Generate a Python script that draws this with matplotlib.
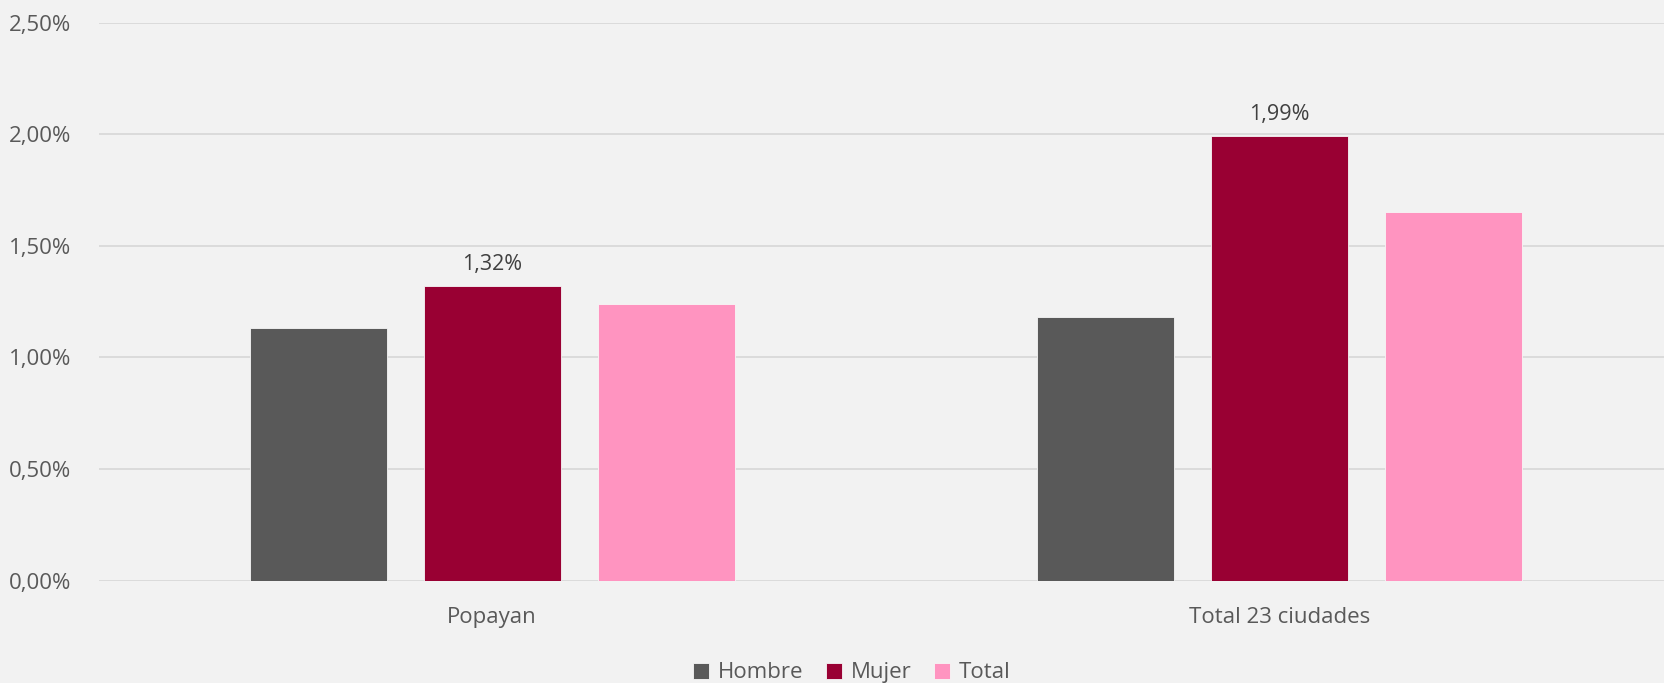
import matplotlib.pyplot as plt
import numpy as np

categories = ['Popayan', 'Total 23 ciudades']
series = ['Hombre', 'Mujer', 'Total']
hombre = [1.13, 1.18]
mujer = [1.32, 1.99]
total = [1.24, 1.65]
yticks = [0.0, 0.5, 1.0, 1.5, 2.0, 2.5]

colors = ['#595959', '#990033', '#ff94c0']
bg = '#f2f2f2'

plt.rcParams['font.family'] = ['Open Sans', 'DejaVu Sans']

fig = plt.figure(figsize=(16.64, 6.83), dpi=100, facecolor=bg)
ax = fig.add_axes([0.0593, 0.150, 0.946, 0.817])
ax.set_facecolor(bg)

x = np.arange(len(categories))
width = 0.174
step = 0.221
bars = []
for i, (name, vals) in enumerate(zip(series, [hombre, mujer, total])):
    b = ax.bar(x + (i - 1) * step, vals, width, color=colors[i], label=name,
               edgecolor='#f7f7f7', linewidth=0.6, zorder=3)
    bars.append(b)

# only the Mujer bars carry a label
for rect, v in zip(bars[1], mujer):
    ax.annotate(f'{v:.2f}%'.replace('.', ','),
                (rect.get_x() + rect.get_width() / 2, v),
                xytext=(0, 8), textcoords='offset points',
                ha='center', va='bottom', fontsize=15.5, color='#404040')

ax.set_xlim(-0.5, 1.5)
ax.set_ylim(0, 2.5)
ax.set_yticks(yticks)
ax.set_yticklabels([f'{t:.2f}%'.replace('.', ',') for t in yticks])
ax.set_xticks(x)
ax.set_xticklabels(categories)
ax.tick_params(axis='both', length=0, labelsize=16, colors='#595959')
ax.tick_params(axis='y', pad=20)
ax.tick_params(axis='x', pad=19)
ax.grid(axis='y', color='#d9d9d9', linewidth=1.3, zorder=0)
for s in ax.spines.values():
    s.set_visible(False)

leg = fig.legend(loc='lower center', bbox_to_anchor=(0.512, -0.03), ncol=3,
                 frameon=False, fontsize=16, handlelength=0.72, handleheight=0.72,
                 handletextpad=0.4, columnspacing=1.0, labelcolor='#595959')

fig.savefig('out.png', dpi=100, facecolor=bg)
